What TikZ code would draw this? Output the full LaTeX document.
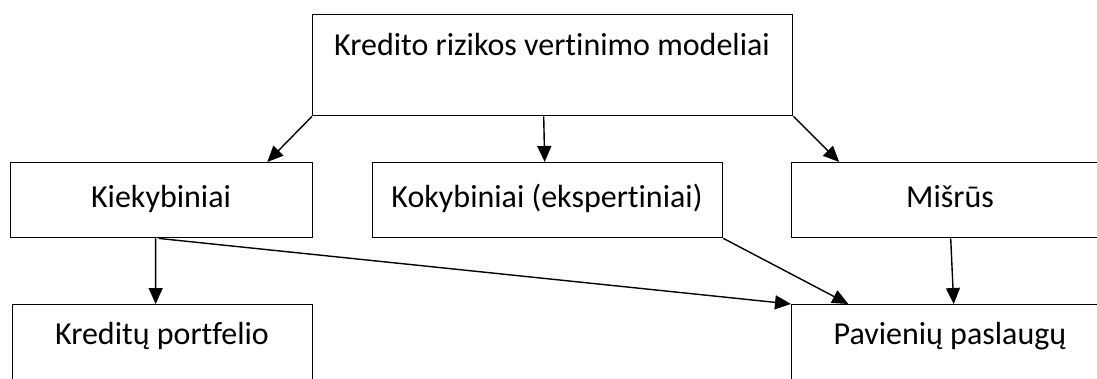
\documentclass[tikz,border=0pt]{standalone}
\usepackage{fontspec}
\setmainfont{Carlito}[RawFeature={-liga}]
\usetikzlibrary{arrows.meta,calc}
\begin{document}
\begin{tikzpicture}[x=1pt,y=-1pt,
  box/.style={draw,line width=1.4pt,inner sep=0pt,anchor=north west},
  lbl/.style={anchor=base,inner sep=0pt,font=\fontsize{32}{38}\selectfont},
  arr/.style={line width=1.4pt,-{Triangle[length=16pt,width=14pt]}}]
\useasboundingbox (0,0) rectangle (1097,378);
\clip (0,0) rectangle (1097,378);
\fill[white] (0,0) rectangle (1097,378);
% boxes
\node[box,minimum width=480pt,minimum height=101pt] (top) at (312,14) {};
\node[box,minimum width=302pt,minimum height=75pt] (kie) at (10,162) {};
\node[box,minimum width=350pt,minimum height=75pt] (kok) at (372,162) {};
\node[box,minimum width=318pt,minimum height=75pt] (mis) at (791,162) {};
\node[box,minimum width=300pt,minimum height=120pt] (kre) at (12,304) {};
\node[box,minimum width=318pt,minimum height=120pt] (pav) at (791,304) {};
% texts
\node[lbl] (ttop) at (552,55) {Kredito rizikos vertinimo modeliai};
\node[lbl] (tkie) at (161,207) {Kiekybiniai};
\node[lbl] (tkok) at (547,207) {Kokybiniai (ekspertiniai)};
\node[lbl] (tmis) at (950,207) {Mišrūs};
\node[lbl] (tkre) at (162,344) {Kreditų portfelio};
\node[lbl] (tpav) at (950,344) {Pavienių paslaugų};
% connectors
\draw[arr] (top.south west) -- ($(kie.north west)!0.848!(kie.north east)$);
\draw[arr] ($(top.south west)!0.4813!(top.south east)$) -- ($(kok.north west)!0.4914!(kok.north east)$);
\draw[arr] (top.south east) -- ($(mis.north west)!0.1509!(mis.north east)$);
\draw[arr] ($(kie.south west)!0.48!(kie.south east)$) -- ($(kre.north west)!0.4767!(kre.north east)$);
\draw[arr] ($(kie.south west)!0.49!(kie.south east)$) -- (pav.north west);
\draw[arr] (kok.south east) -- ($(pav.north west)!0.1793!(pav.north east)$);
\draw[arr] ($(mis.south west)!0.5!(mis.south east)$) -- ($(pav.north west)!0.5094!(pav.north east)$);
\end{tikzpicture}
\end{document}
